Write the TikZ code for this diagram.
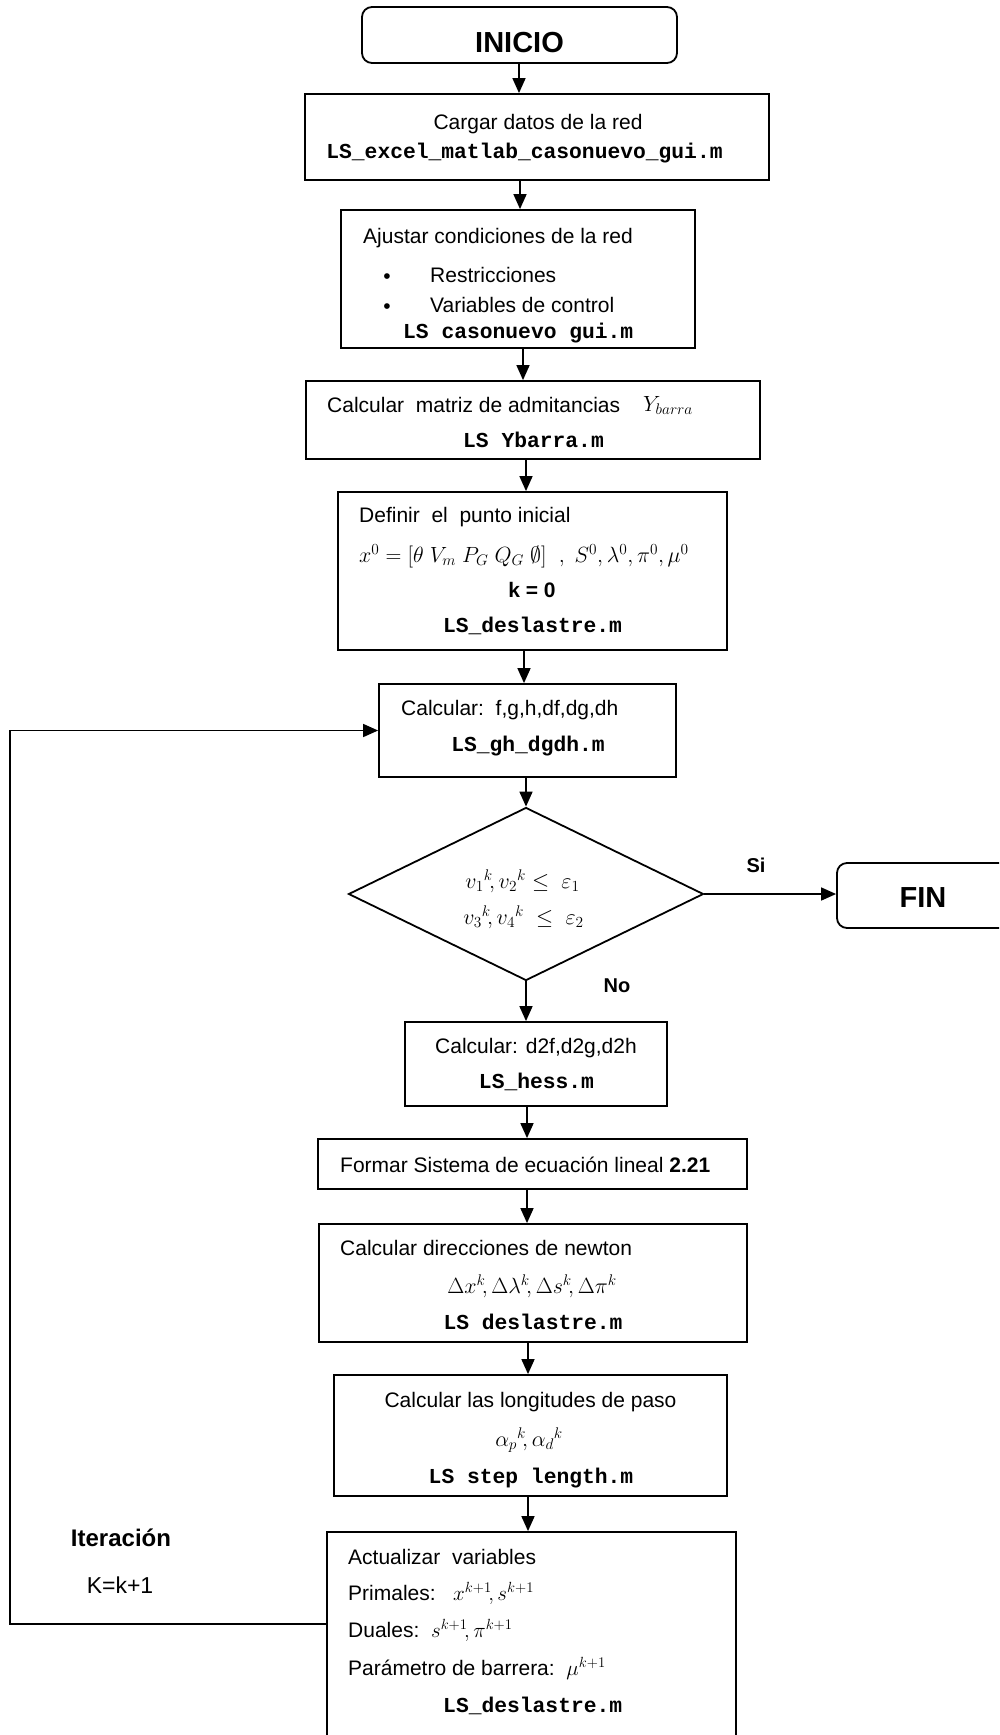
\RequirePackage{fix-cm}
\documentclass[tikz,border=0pt]{standalone}
\usepackage{fontspec}
\setmainfont{Liberation Sans}
\setmonofont{Liberation Mono}
\usetikzlibrary{arrows.meta,shapes.geometric}
\newcommand\fsz[1]{\fontsize{#1}{#1}\selectfont}
\tikzset{
  box/.style={draw, line width=1.8pt, inner sep=0pt},
  rbox/.style={draw, line width=1.8pt, inner sep=0pt, rounded corners=10pt},
  arr/.style={-{Triangle[length=15pt,width=13pt]}, line width=1.6pt},
  tx/.style={inner sep=0pt, font=\fsz{21}, text height=15pt, text depth=0pt},
  bl/.style={inner sep=0pt, font=\bfseries\fsz{20}, text height=14pt, text depth=0pt},
  big/.style={inner sep=0pt, font=\bfseries\fsz{29}, text height=21pt, text depth=0pt},
  mono/.style={inner sep=0pt, font=\ttfamily\bfseries\fsz{21.3}, text height=12pt, text depth=0pt},
  mth/.style={inner sep=0pt, font=\fsz{22}, text height=13pt, text depth=0pt},
}
\begin{document}
\begin{tikzpicture}[x=1pt,y=-1pt]
\useasboundingbox (0,0) rectangle (999,1735);
\clip (0,0) rectangle (999,1735);

% boxes
\node[rbox, minimum width=315pt, minimum height=56pt] (ini) at (519.5,35) {};
\node[box, minimum width=464pt, minimum height=86pt] (b1) at (537,137) {};
\node[box, minimum width=354pt, minimum height=138pt] (b2) at (518,279) {};
\node[box, minimum width=454pt, minimum height=78pt] (b3) at (533,420) {};
\node[box, minimum width=389pt, minimum height=158pt] (b4) at (532.5,571) {};
\node[box, minimum width=297pt, minimum height=93pt] (b5) at (527.5,730.5) {};
\node[draw, diamond, line width=1.8pt, inner sep=0pt, minimum width=355pt, minimum height=173pt] (dia) at (526,894) {};
\node[rbox, minimum width=203pt, minimum height=65pt] (fin) at (938.5,895.5) {};
\node[box, minimum width=262pt, minimum height=84pt] (b6) at (536,1064) {};
\node[box, minimum width=429pt, minimum height=50pt] (b7) at (532.5,1164) {};
\node[box, minimum width=428pt, minimum height=118pt] (b8) at (533,1283) {};
\node[box, minimum width=393pt, minimum height=121pt] (b9) at (530.5,1435.5) {};
\node[box, minimum width=409pt, minimum height=228pt] (b10) at (531.5,1646) {};

% texts
\node[big] (tini) at (519.5,42) {INICIO};
\node[big] (tfin) at (923,897) {FIN};

\node[tx] (t1a) at (538,121.5) {Cargar datos de la red};
\node[mono] (t1b) at (524.5,152) {LS\_excel\_matlab\_casonuevo\_gui.m};

\node[tx, anchor=west] (t2a) at (363,236) {Ajustar condiciones de la red};
\node[tx] (t2p1) at (387,276) {\textbullet};
\node[tx] (t2p2) at (387,306) {\textbullet};
\node[tx, anchor=west] (t2b) at (430,275) {Restricciones};
\node[tx, anchor=west] (t2c) at (430,305) {Variables de control};
\node[mono, anchor=west] (t2d) at (403,332) {LS casonuevo gui.m};

\node[tx, anchor=west] (t3a) at (327,405) {Calcular\ \ matriz de admitancias};
\node[mth, anchor=west] (t3y) at (643,405) {$Y_{barra}$};
\node[mono, anchor=west] (t3b) at (463,441) {LS Ybarra.m};

\node[tx, anchor=west] (t4a) at (359,514.5) {Definir\ \ el\ \ punto inicial};
\node[mth, anchor=west] (t4b) at (359,556) {$x^0=[\theta\; V_m\; P_G\; Q_G\; \emptyset]\;\ ,\ S^0,\lambda^0,\pi^0,\mu^0$};
\node[tx, font=\bfseries\fsz{21}] (t4c) at (532,590) {k = 0};
\node[mono] (t4d) at (532.5,626) {LS\_deslastre.m};

\node[tx, anchor=west] (t5a) at (401,707.5) {Calcular:\ \ f,g,h,df,dg,dh};
\node[mono] (t5b) at (528,745.5) {LS\_gh\_dgdh.m};

\node[mth] (td1) at (522.5,882) {${v_1}^k\!,{v_2}^k \le\ \varepsilon_1$};
\node[mth] (td2) at (523.5,918) {${v_3}^k\!,{v_4}^k\ \le\ \varepsilon_2$};
\node[bl] (tsi) at (756,865) {Si};
\node[bl] (tno) at (617,985) {No};

\node[tx] (t6a) at (536,1045.5) {Calcular: d2f,d2g,d2h};
\node[mono] (t6b) at (536.5,1082) {LS\_hess.m};

\node[tx, anchor=west] (t7a) at (340,1164.5) {Formar Sistema de ecuación lineal \textbf{2.21}};

\node[tx, anchor=west] (t8a) at (340,1247.5) {Calcular direcciones de newton};
\node[mth] (t8b) at (532,1287) {$\Delta x^k\!,\Delta\lambda^k\!,\Delta s^k\!,\Delta\pi^k$};
\node[mono] (t8c) at (533,1323) {LS deslastre.m};

\node[tx] (t9a) at (530.5,1399.5) {Calcular las longitudes de paso};
\node[mth] (t9b) at (529,1440) {${\alpha_p}^k\!,{\alpha_d}^k$};
\node[mono] (t9c) at (531,1477.5) {LS step length.m};

\node[tx, anchor=west] (t10a) at (348,1556.5) {Actualizar\ \ variables};
\node[tx, anchor=west] (t10b) at (348,1592.5) {Primales:\ \ \ $x^{k+1}\!,s^{k+1}$};
\node[tx, anchor=west] (t10c) at (348,1629.5) {Duales:\ \ $s^{k+1}\!,\pi^{k+1}$};
\node[tx, anchor=west] (t10d) at (348,1667.5) {Parámetro de barrera:\ \ $\mu^{k+1}$};
\node[mono] (t10e) at (532.7,1706) {LS\_deslastre.m};

\node[tx, font=\bfseries\fsz{24}, text height=17pt] (tit) at (121,1537.5) {Iteración};
\node[tx, font=\fsz{23}, text height=16.5pt] (tk) at (120,1585) {K=k+1};

% arrow x positions
\coordinate (x1) at (519,0);
\coordinate (x2) at (520,0);
\coordinate (x3) at (523,0);
\coordinate (x4) at (526,0);
\coordinate (x5) at (524,0);
\coordinate (x8) at (527,0);
\coordinate (x9) at (527,0);
\coordinate (x10) at (528,0);
\coordinate (x11) at (528,0);

\draw[arr] (x1 |- ini.south) -- (x1 |- b1.north);
\draw[arr] (x2 |- b1.south) -- (x2 |- b2.north);
\draw[arr] (x3 |- b2.south) -- (x3 |- b3.north);
\draw[arr] (x4 |- b3.south) -- (x4 |- b4.north);
\draw[arr] (x5 |- b4.south) -- (x5 |- b5.north);
\draw[arr] (dia.north |- b5.south) -- (dia.north);
\draw[arr] (dia.east) -- (dia.east -| fin.west);
\draw[arr] (dia.south) -- (dia.south |- b6.north);
\draw[arr] (x8 |- b6.south) -- (x8 |- b7.north);
\draw[arr] (x9 |- b7.south) -- (x9 |- b8.north);
\draw[arr] (x10 |- b8.south) -- (x10 |- b9.north);
\draw[arr] (x11 |- b9.south) -- (x11 |- b10.north);

\coordinate (lp) at (10,1624);
\draw[arr] (lp -| b10.west) -- (lp) |- (b5.west);
\end{tikzpicture}
\end{document}
